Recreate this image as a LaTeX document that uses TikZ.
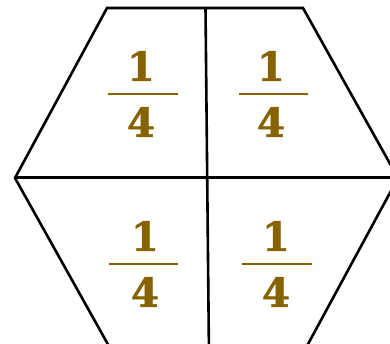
\documentclass[tikz,border=0pt]{standalone}
\usepackage{fontspec}
\newfontfamily\digitfont[BoldFeatures={FakeBold=1.2}]{DejaVu Serif}
\definecolor{fracbrown}{RGB}{134,98,0}
\begin{document}
\begin{tikzpicture}[x=1pt,y=-1pt,
  edge/.style={line width=2.6pt,black,line join=miter},
  digit/.style={text=fracbrown,font=\digitfont\bfseries\fontsize{40}{40}\selectfont,inner sep=0pt,anchor=center},
  fracline/.style={draw=fracbrown,line width=1.1pt}]
\useasboundingbox (0,0) rectangle (390,344);
\clip (0,0) rectangle (390,344);
% hexagon vertices
\coordinate (tl) at (107,8);
\coordinate (tr) at (303,8);
\coordinate (r) at (398,178);
\coordinate (br) at (301,357);
\coordinate (bl) at (115,357);
\coordinate (l) at (15,178);
\coordinate (vt) at (205.5,8);
\coordinate (vb) at (209,357);
\draw[edge] (tl) -- (tr) -- (r) -- (br) -- (bl) -- (l) -- cycle;
\draw[edge,line width=3pt] (l) -- (r);
\draw[edge] (vt) -- (vb);
% fractions
\node[digit] (n1) at (141,66) {1};
\node[digit] (d1) at (141,122) {4};
\draw[fracline] (108,94) -- (178,94);
\node[digit] (n2) at (271,66) {1};
\node[digit] (d2) at (271,122) {4};
\draw[fracline] (239,94) -- (308,94);
\node[digit] (n3) at (145,236) {1};
\node[digit] (d3) at (145,292) {4};
\draw[fracline] (109,264) -- (178,264);
\node[digit] (n4) at (276,236) {1};
\node[digit] (d4) at (276,292) {4};
\draw[fracline] (242,264) -- (312,264);
\end{tikzpicture}
\end{document}
